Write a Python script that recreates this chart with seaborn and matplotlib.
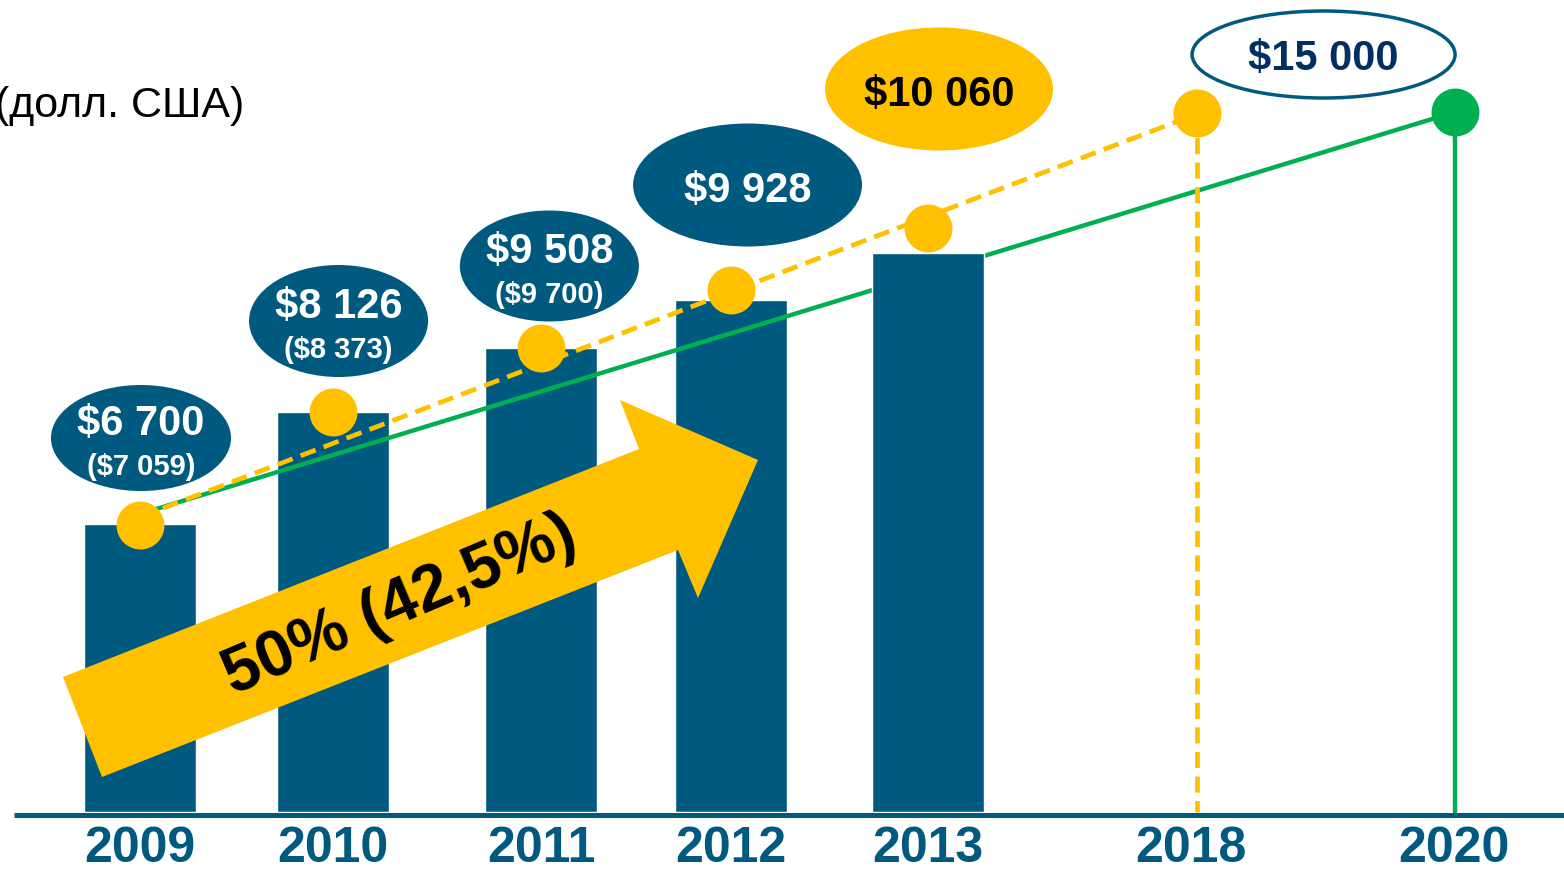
import matplotlib
matplotlib.use("Agg")
import matplotlib.pyplot as plt
from matplotlib.patches import Ellipse, Polygon
import pandas as pd
import seaborn as sns

# values as drawn in the picture (schematic bar heights, not to $ scale)
years = ["2009", "2010", "2011", "2012", "2013", "2018", "2020"]
bar_height = [288, 400, 464, 512, 559]
dot_height = [287, 400, 464, 522, 584, 699]   # yellow dots 2009-2013 and 2018
target_height = 700                            # green dot 2020
trend_yellow = [295, 698]                      # 2009 -> 2018
trend_green = [298, 700]                       # 2009 -> 2020
main_labels = ["$6 700", "$8 126", "$9 508", "$9 928", "$10 060"]
sub_labels = ["($7 059)", "($8 373)", "($9 700)", "", ""]
target_label = "$15 000"
growth_text = "50% (42,5%)"
unit_text = "(долл. США)"

# layout
x_pos = [0, 0.98, 2.036, 3.0, 4.0, 5.365, 6.675]
year_x = [0, 0.98, 2.036, 3.0, 4.0, 5.335, 6.67]
label_x = [0.005, 1.008, 2.078, 3.084, 4.056]
label_y = [374, 491, 546, 627, 723]
label_w = [0.914, 0.909, 0.909, 1.162, 1.157]
label_h = [106, 112, 111, 123, 123]

BLUE = "#005A80"
YELLOW = "#FFC000"
GREEN = "#00B050"
NAVY = "#002F63"

sns.set_theme(style="white")
plt.rcParams["font.family"] = ["Liberation Sans", "DejaVu Sans"]


def px2data(px, py):
    return (px - 140) / 197, 812 - py


fig = plt.figure(figsize=(15.64, 8.72), dpi=100)
ax = fig.add_axes([0, 0, 1, 1])

df = pd.DataFrame({"x": x_pos[:5], "h": bar_height})
gap = min(b - a for a, b in zip(x_pos[:4], x_pos[1:5]))
sns.barplot(data=df, x="x", y="h", native_scale=True, width=0.568 / gap,
            color=BLUE, saturation=1, errorbar=None, ax=ax, zorder=2)
# the 2013 bar sits over the green trend line
ax.patches[4].set_zorder(3.5)

# trend lines
dash = (0, (3.4, 1.8))
sns.lineplot(x=[x_pos[0], x_pos[6]], y=trend_green, color=GREEN, lw=3.2, ax=ax, zorder=3)
sns.lineplot(x=[x_pos[0], x_pos[5]], y=trend_yellow, color=YELLOW, lw=3.4,
             linestyle=dash, ax=ax, zorder=3)
ax.plot([x_pos[5], x_pos[5]], [dot_height[5], 0], color=YELLOW, lw=3.4,
        linestyle=dash, zorder=3)
ax.plot([x_pos[6], x_pos[6]], [target_height, 0], color=GREEN, lw=3.2, zorder=3)

# dots
sns.scatterplot(x=x_pos[:6], y=dot_height, s=1190, color=YELLOW, linewidth=0,
                ax=ax, zorder=5)
sns.scatterplot(x=[x_pos[6]], y=[target_height], s=1190, color=GREEN, linewidth=0,
                ax=ax, zorder=5)

# baseline and year labels
ax.plot([px2data(14, 0)[0], px2data(1564, 0)[0]], [-2.5, -2.5], color=BLUE, lw=3.6,
        solid_capstyle="butt", zorder=4)
for x, yr in zip(year_x, years):
    ax.text(x, -50, yr, ha="center", va="baseline", fontsize=36,
            fontweight="bold", color=BLUE)

# value bubbles
for i in range(5):
    face = YELLOW if i == 4 else BLUE
    tcol = "black" if i == 4 else "white"
    ax.add_patch(Ellipse((label_x[i], label_y[i]), label_w[i], label_h[i],
                         facecolor=face, edgecolor="none", zorder=6))
    if sub_labels[i]:
        ax.text(label_x[i], label_y[i] + 3, main_labels[i], ha="center", va="baseline",
                fontsize=30, fontweight="bold", color=tcol, zorder=7)
        ax.text(label_x[i], label_y[i] - 37, sub_labels[i], ha="center", va="baseline",
                fontsize=21, fontweight="bold", color=tcol, zorder=7)
    else:
        ax.text(label_x[i], label_y[i] - 17, main_labels[i], ha="center", va="baseline",
                fontsize=30, fontweight="bold", color=tcol, zorder=7)

ax.add_patch(Ellipse((6.008, 757.5), 1.335, 87, facecolor="white",
                     edgecolor=BLUE, lw=2.5, zorder=6))
ax.text(6.008, 757.5 - 15.5, target_label, ha="center", va="baseline",
        fontsize=30, fontweight="bold", color=NAVY, zorder=7)

# growth arrow
arrow_px = [(63, 677), (639, 449), (620, 400), (758, 460), (698, 598), (678, 550), (102, 777)]
ax.add_patch(Polygon([px2data(*p) for p in arrow_px], closed=True,
                     facecolor=YELLOW, edgecolor="none", zorder=4))
gx, gy = px2data(400, 606)
ax.text(gx, gy, growth_text, ha="center", va="center", rotation=23,
        rotation_mode="anchor", fontsize=47, fontweight="bold", color="black", zorder=7)

ux, uy = px2data(-5, 117)
ax.text(ux, uy, unit_text, ha="left", va="baseline", fontsize=31, color="black")

ax.set_xlim(px2data(0, 0)[0], px2data(1564, 0)[0])
ax.set_ylim(-60, 812)
ax.axis("off")

fig.savefig("out.png", dpi=100)
